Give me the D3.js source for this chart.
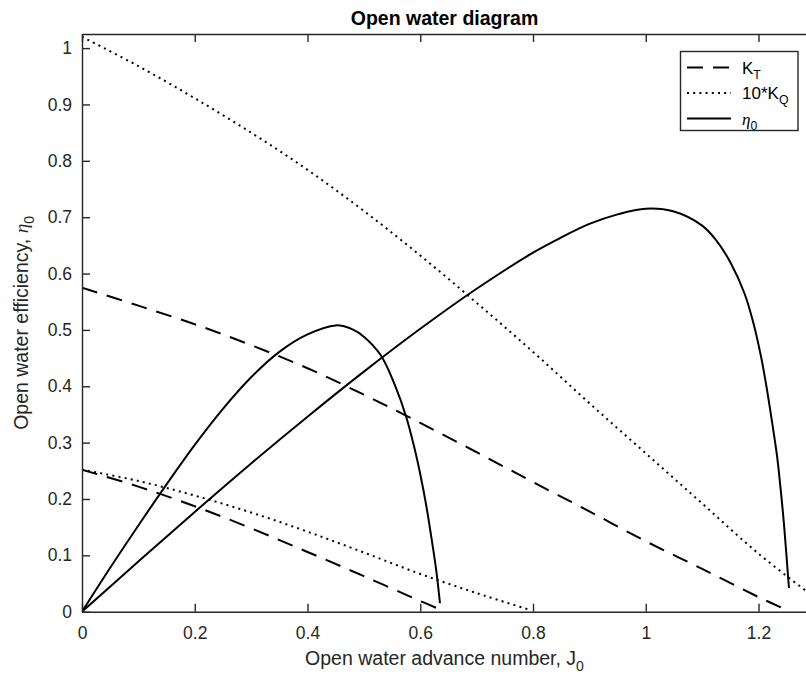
<!DOCTYPE html>
<html>
<head>
<meta charset="utf-8">
<script src="https://cdn.jsdelivr.net/npm/d3@7"></script>
<style>
  body { margin: 0; background: #fff; }
  svg { display: block; }
  text { font-family: "Liberation Sans", Arial, Helvetica, sans-serif; }
</style>
</head>
<body>
<svg id="chart" width="806" height="677"></svg>
<script>
// Open water characteristics of two propellers, A (lower loading) and B.
// Thrust coefficient K_T, torque coefficient 10*K_Q and efficiency eta_0 vs advance number J.

// Propeller A
const jKtA   = [0, 0.1, 0.2, 0.3, 0.4, 0.5, 0.6, 0.635];
const ktA    = [0.252, 0.222, 0.187, 0.148, 0.106, 0.063, 0.019, 0.004];
const jKqA   = [0, 0.1, 0.2, 0.3, 0.4, 0.5, 0.6, 0.7, 0.795];
const kq10A  = [0.252, 0.232, 0.206, 0.176, 0.142, 0.105, 0.067, 0.033, 0.003];
const jEtaA  = [0, 0.05, 0.1, 0.15, 0.2, 0.25, 0.3, 0.35, 0.4, 0.45, 0.48, 0.5, 0.53, 0.555, 0.575, 0.59, 0.6, 0.61, 0.62, 0.628, 0.635];
const etaA   = [0, 0.078, 0.153, 0.226, 0.296, 0.360, 0.416, 0.461, 0.492, 0.508, 0.501, 0.488, 0.455, 0.402, 0.346, 0.289, 0.244, 0.192, 0.130, 0.076, 0.015];

// Propeller B
const jKtB   = [0, 0.1, 0.2, 0.3, 0.4, 0.5, 0.6, 0.7, 0.8, 0.9, 1.0, 1.1, 1.2, 1.25];
const ktB    = [0.575, 0.543, 0.510, 0.473, 0.432, 0.385, 0.335, 0.283, 0.230, 0.178, 0.125, 0.076, 0.026, 0.003];
const jKqB   = [0, 0.1, 0.2, 0.3, 0.4, 0.5, 0.6, 0.7, 0.8, 0.9, 1.0, 1.1, 1.2, 1.3];
const kq10B  = [1.020, 0.968, 0.911, 0.850, 0.784, 0.711, 0.632, 0.548, 0.461, 0.370, 0.281, 0.192, 0.103, 0.025];
const jEtaB  = [0, 0.1, 0.2, 0.3, 0.4, 0.5, 0.6, 0.7, 0.8, 0.85, 0.9, 0.95, 1.0, 1.05, 1.1, 1.125, 1.15, 1.175, 1.191, 1.205, 1.215, 1.225, 1.233, 1.24, 1.245, 1.254];
const etaB   = [0, 0.089, 0.177, 0.263, 0.346, 0.426, 0.502, 0.573, 0.637, 0.664, 0.688, 0.705, 0.715, 0.710, 0.685, 0.659, 0.620, 0.565, 0.512, 0.450, 0.394, 0.330, 0.275, 0.210, 0.157, 0.042];

// Axis ticks
const xTicks = [0, 0.2, 0.4, 0.6, 0.8, 1.0, 1.2];
const xTickLabels = ["0", "0.2", "0.4", "0.6", "0.8", "1", "1.2"];
const yTicks = [0, 0.1, 0.2, 0.3, 0.4, 0.5, 0.6, 0.7, 0.8, 0.9, 1.0];
const yTickLabels = ["0", "0.1", "0.2", "0.3", "0.4", "0.5", "0.6", "0.7", "0.8", "0.9", "1"];

const xDomain = [0, 1.286];
const yDomain = [0, 1.025];

const svg = d3.select("#chart");
const W = 806, H = 677;
const margin = { left: 82, top: 34, right: W - 807, bottom: H - 611.7 };
const plotW = W - margin.left - margin.right;
const plotH = H - margin.top - margin.bottom;

const x = d3.scaleLinear().domain(xDomain).range([0, plotW]);
const y = d3.scaleLinear().domain(yDomain).range([plotH, 0]);

const axisColor = "#262626";
const tickFont = 17.5;
const labelFont = 19.5;

const g = svg.append("g").attr("transform", `translate(${margin.left},${margin.top})`);

g.append("clipPath").attr("id", "plotClip")
  .append("rect").attr("x", 0).attr("y", 0).attr("width", plotW).attr("height", plotH);

// Curves
const zip = (xs, ys) => xs.map((v, i) => [v, ys[i]]);
const line = d3.line().x(d => x(d[0])).y(d => y(d[1])).curve(d3.curveCatmullRom.alpha(0.5));

const styles = {
  kt:  { dash: "16,10" },
  kq:  { dash: "2,4.2" },
  eta: { dash: null }
};

const series = [
  { pts: zip(jKtA, ktA),   s: styles.kt },
  { pts: zip(jKqA, kq10A), s: styles.kq },
  { pts: zip(jEtaA, etaA), s: styles.eta },
  { pts: zip(jKtB, ktB),   s: styles.kt },
  { pts: zip(jKqB, kq10B), s: styles.kq },
  { pts: zip(jEtaB, etaB), s: styles.eta }
];

const curves = g.append("g").attr("clip-path", "url(#plotClip)");
series.forEach(sr => {
  curves.append("path")
    .attr("d", line(sr.pts))
    .attr("fill", "none")
    .attr("stroke", "#000")
    .attr("stroke-width", 2)
    .attr("stroke-dasharray", sr.s.dash);
});

// Axes (ticks pointing inward)
const xAxis = d3.axisBottom(x).tickValues(xTicks)
  .tickFormat((d, i) => xTickLabels[i]).tickSizeInner(-8).tickSizeOuter(0).tickPadding(14.5);
const yAxis = d3.axisLeft(y).tickValues(yTicks)
  .tickFormat((d, i) => yTickLabels[i]).tickSizeInner(-8).tickSizeOuter(0).tickPadding(10);
const xTop = d3.axisTop(x).tickValues(xTicks).tickFormat("").tickSizeInner(-8).tickSizeOuter(0);

function styleAxis(sel) {
  sel.selectAll(".domain").attr("stroke", axisColor).attr("stroke-width", 1.4);
  sel.selectAll(".tick line").attr("stroke", axisColor).attr("stroke-width", 1.4);
  sel.selectAll(".tick text").attr("fill", axisColor)
    .style("font-size", tickFont + "px")
    .style("font-family", '"Liberation Sans", Arial, Helvetica, sans-serif');
}

g.append("g").attr("transform", `translate(0,${plotH})`).call(xAxis).call(styleAxis);
g.append("g").call(yAxis).call(styleAxis);
g.append("g").call(xTop).call(styleAxis);

// Title
svg.append("text")
  .attr("x", margin.left + plotW / 2).attr("y", 25)
  .attr("text-anchor", "middle")
  .style("font-size", labelFont + "px").style("font-weight", "bold")
  .attr("fill", "#000")
  .text("Open water diagram");

// X label
const xl = svg.append("text")
  .attr("x", margin.left + plotW / 2).attr("y", 665)
  .attr("text-anchor", "middle")
  .style("font-size", labelFont + "px")
  .attr("fill", axisColor);
xl.append("tspan").text("Open water advance number, J");
xl.append("tspan").attr("dy", 6).style("font-size", (labelFont * 0.72) + "px").text("0");

// Y label
const yl = svg.append("text")
  .attr("transform", `translate(28,${margin.top + plotH / 2}) rotate(-90)`)
  .attr("text-anchor", "middle")
  .style("font-size", labelFont + "px")
  .attr("fill", axisColor);
yl.append("tspan").text("Open water efficiency, ");
yl.append("tspan").style("font-family", '"Liberation Serif", "DejaVu Serif", serif')
  .style("font-style", "italic").text("η");
yl.append("tspan").attr("dy", 6).style("font-size", (labelFont * 0.72) + "px").text("0");

// Legend
const legendItems = [
  { dash: styles.kt.dash, main: "K", sub: "T" },
  { dash: styles.kq.dash, main: "10*K", sub: "Q" },
  { dash: styles.eta.dash, main: "η", sub: "0", greek: true }
];
const lg = svg.append("g");
lg.append("rect")
  .attr("x", 680.5).attr("y", 51.5).attr("width", 117.5).attr("height", 79)
  .attr("fill", "#fff").attr("stroke", axisColor).attr("stroke-width", 1.4);
const legendFont = 17;
legendItems.forEach((it, i) => {
  const cy = 67.5 + i * 25.5;
  lg.append("line")
    .attr("x1", 687).attr("x2", 731).attr("y1", cy).attr("y2", cy)
    .attr("stroke", "#000").attr("stroke-width", 2)
    .attr("stroke-dasharray", it.dash);
  const t = lg.append("text")
    .attr("x", 742).attr("y", cy + 6)
    .style("font-size", legendFont + "px").attr("fill", "#000");
  const m = t.append("tspan").text(it.main);
  if (it.greek) {
    m.style("font-family", '"Liberation Serif", "DejaVu Serif", serif').style("font-style", "italic");
  }
  t.append("tspan").attr("dy", 5).style("font-size", (legendFont * 0.72) + "px").text(it.sub);
});
</script>
</body>
</html>
